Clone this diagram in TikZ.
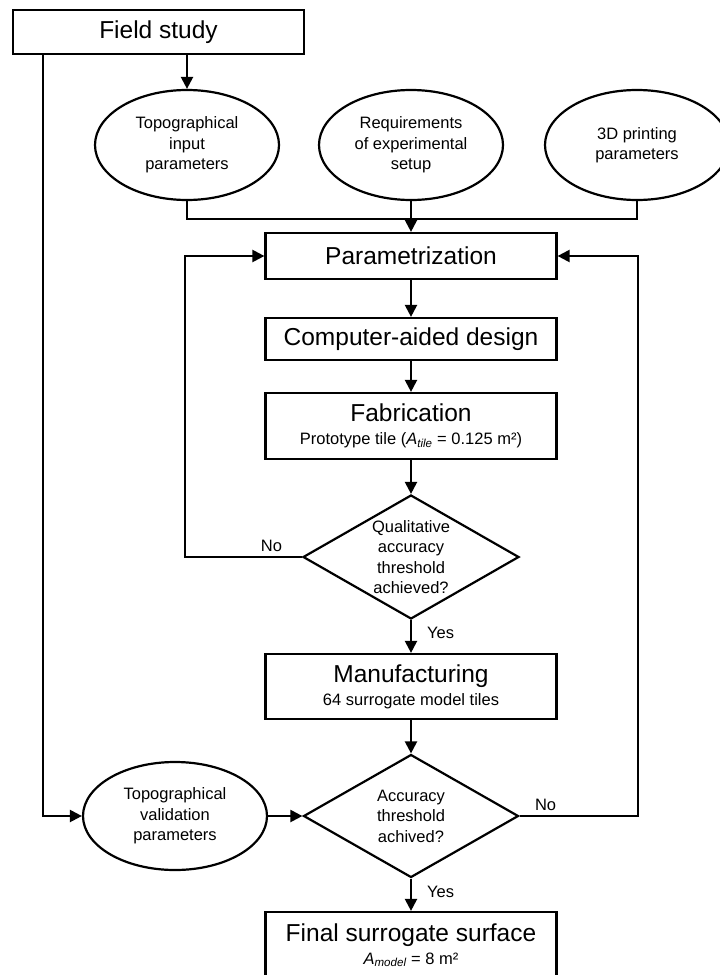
\documentclass[tikz,border=0pt]{standalone}
\usepackage{fontspec}
\setmainfont{Liberation Sans}
\usepackage{tikz}
\usetikzlibrary{arrows.meta,positioning,shapes.geometric}
\newcommand{\bigtxt}{\fontsize{24.5}{28}\selectfont}
\newcommand{\smalltxt}{\fontsize{16.5}{20.5}\selectfont}
\newcommand{\subline}[1]{{\smalltxt #1}}

\begin{document}
\begin{tikzpicture}[x=1pt,y=-1pt,line width=2.2pt,>={Triangle[length=12pt,width=12pt]},
    procbox/.style={draw,minimum width=291pt,inner sep=0pt,align=center,font=\bigtxt},
    inputell/.style={ellipse,draw,minimum width=184pt,minimum height=110pt,inner sep=0pt,
      align=center,font=\smalltxt},
    decision/.style={diamond,draw,aspect=1.74,minimum width=216pt,minimum height=124pt,
      inner sep=0pt,align=center,font=\smalltxt},
    answer/.style={font=\smalltxt,inner sep=2pt}]
    \useasboundingbox (0,0) rectangle (720,975);
    \node[procbox,minimum height=44pt] (field) at (158.5,32) {Field study};
    \node[inputell] (topoin) at (187,145) {Topographical\\input\\parameters};
    \node[inputell] (require) at (411,145) {Requirements\\of experimental\\setup};
    \node[inputell] (printing) at (637,145) {3D printing\\parameters};
    \node[procbox,minimum height=46pt] (param) at (411,256) {Parametrization};
    \node[procbox,minimum height=42pt] (cad) at (411,339) {Computer-aided design};
    \node[procbox,minimum height=66pt] (fab) at (411,426) {
      Fabrication\\[-5pt]\subline{Prototype tile ({\itshape A}\textsubscript{\itshape tile} = 0.125 m²)}};
    \node[decision] (qualcheck) at (411,557) {Qualitative\\accuracy\\threshold\\achieved?};
    \node[procbox,minimum height=65pt] (manu) at (411,686.5) {
      Manufacturing\\[-5pt]\subline{64 surrogate model tiles}};
    \node[inputell,minimum height=108pt] (topoval) at (175,816) {Topographical\\validation\\parameters};
    \node[decision,minimum width=215pt,minimum height=123pt] (acccheck) at (411,816) {Accuracy\\threshold\\achived?};
    \node[procbox,minimum height=66pt] (final) at (411,945) {
      Final surrogate surface\\[-5pt]\subline{{\itshape A}\textsubscript{\itshape model} = 8 m²}};
    \coordinate (rail) at (43,54);
    % inputs
    \draw[->] (field.south -| topoin) -- (topoin.north);
    \draw[->] (rail) |- (topoval.west);
    \draw (topoin.south) -- ++(0,18) -| (printing.south);
    \draw[->] (require.south) -- (param.north);
    % main chain
    \draw[->] (param) -- (cad);
    \draw[->] (cad) -- (fab);
    \draw[->] (fab) -- (qualcheck);
    \draw[->] (qualcheck) -- node[answer,anchor=west,xshift=13pt,yshift=4pt]{Yes} (manu);
    \draw[->] (manu) -- (acccheck);
    \draw[->] (topoval) -- (acccheck);
    \draw[->] (acccheck) -- node[answer,anchor=west,xshift=13pt,yshift=3pt]{Yes} (final);
    % feedback loops
    \draw[->] (qualcheck.west) -- node[answer,above,pos=0.26,yshift=2pt]{No} ++(-117,0) |- (param.west);
    \draw[->] (acccheck.east) -- node[answer,above,pos=0.22,yshift=2pt]{No} ++(118,0) |- (param.east);
  \end{tikzpicture}
\end{document}
